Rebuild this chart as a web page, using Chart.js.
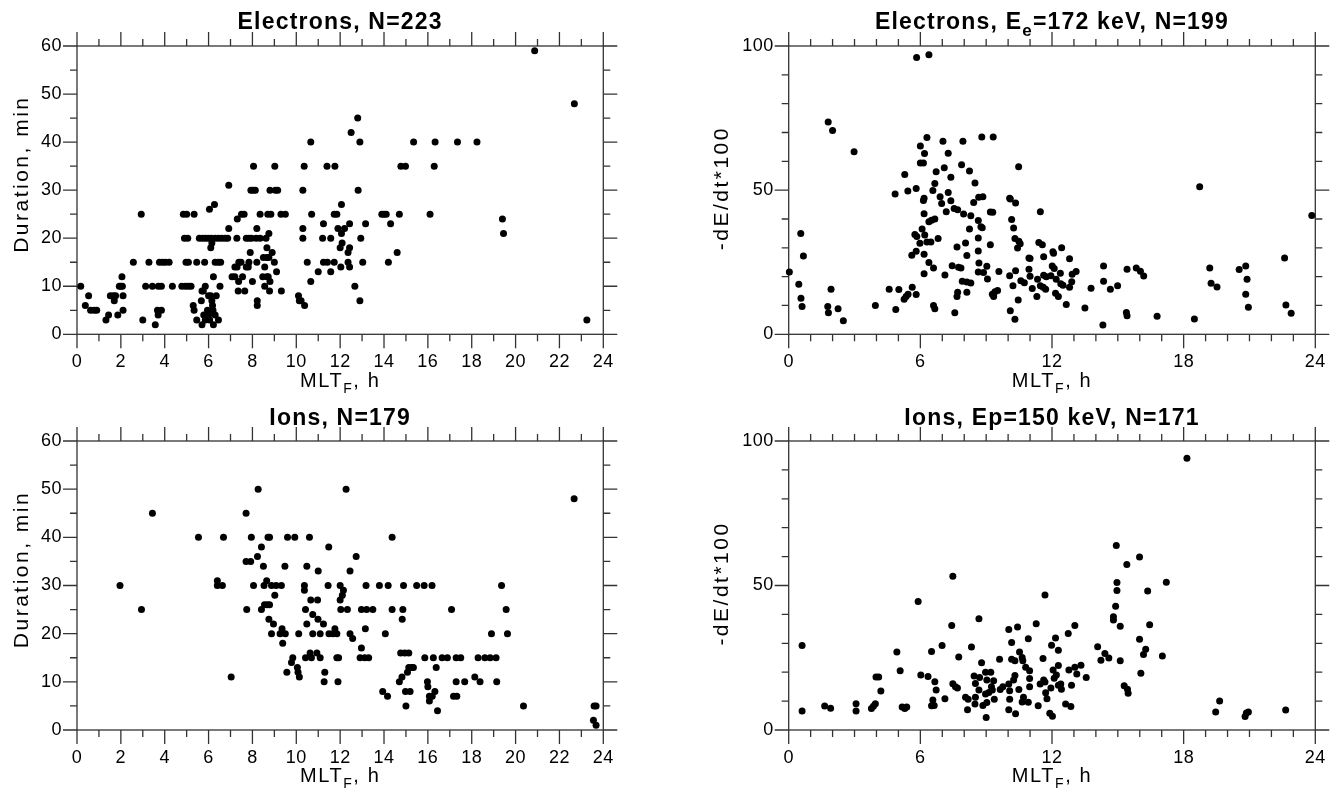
<!DOCTYPE html>
<html>
<head>
<meta charset="utf-8">
<script src="https://cdn.jsdelivr.net/npm/chart.js@4.4.1/dist/chart.umd.min.js"></script>
<style>
  html, body { margin: 0; padding: 0; background: #fff; }
  #wrap { position: relative; width: 1338px; height: 790px; }
  canvas { position: absolute; }
</style>
</head>
<body>
<div id="wrap">
  <canvas id="eDur" width="669" height="395" style="left:0;top:0"></canvas>
  <canvas id="eRate" width="669" height="395" style="left:669px;top:0"></canvas>
  <canvas id="iDur" width="669" height="395" style="left:0;top:395px"></canvas>
  <canvas id="iRate" width="669" height="395" style="left:669px;top:395px"></canvas>
</div>
<script>
// ---- data ----
// electrons: duration (min) vs MLT_F (h)
const eDurMlt = [0.17,0.38,0.53,0.62,0.78,0.9,1.32,1.44,1.52,1.66,1.76,1.7,1.86,1.93,2.0,2.07,2.1,2.05,2.1,
  2.57,2.93,3.0,3.13,3.28,3.44,3.57,3.67,3.7,3.71,3.85,3.76,3.9,4.03,4.2,3.85,4.35,
  4.78,4.94,5.08,5.2,4.85,5.0,5.34,4.9,5.05,4.97,5.08,5.3,5.34,5.46,5.46,
  5.58,5.72,5.85,5.98,6.12,6.3,6.45,6.6,6.75,6.87,
  5.67,5.7,5.78,5.85,5.82,5.7,5.76,5.85,5.95,6.0,6.05,6.0,6.04,6.1,6.15,6.1,6.15,6.18,6.2,6.22,6.22,6.27,6.3,6.43,6.55,6.3,6.35,6.45,6.52,
  6.92,6.92,7.29,7.31,7.07,7.2,7.2,7.3,7.38,7.48,7.37,7.35,7.5,7.62,7.55,7.65,7.72,7.81,7.72,7.84,7.96,7.84,7.9,7.93,8.03,8.13,
  8.0,8.17,8.35,8.2,8.2,8.22,8.22,8.35,8.7,8.84,8.47,8.56,8.62,8.75,8.5,8.66,8.75,8.66,8.56,8.66,8.72,8.8,8.8,9.05,9.15,8.9,8.78,9.0,9.1,9.32,9.3,9.5,
  10.1,10.14,10.22,10.38,10.3,10.3,10.3,10.5,10.66,10.7,11.0,11.2,11.24,11.24,11.42,11.73,11.57,11.57,11.73,11.85,
  12.82,12.06,13.9,14.0,14.1,14.7,16.1,19.4,19.45,12.43,13.16,14.3,11.9,12.2,12.06,12.94,12.09,12.0,12.43,12.36,14.6,12.36,13.03,14.2,12.03,12.43,12.67,12.9,23.25,
  20.87,22.68,12.8,12.5,10.66,12.9,15.35,16.33,17.35,18.24,10.36,11.4,11.76,14.77,14.98,16.29,8.05,9.02];
const eDurMin = [10,6,8,5,5,5,3,4,8,8,8,7,4,10,10,10,8,12,5,
  15,25,3,10,15,10,2,5,4,10,10,15,15,15,15,5,10,
  10,10,10,10,25,25,25,20,20,15,15,6,5,15,3,
  20,20,20,20,20,20,20,20,20,20,
  7,2,4,3,15,9,9,10,5,4,3,8,26,18,19,8,7,6,5,12,2,27,15,15,15,4,8,3,10,
  31,22,20,24,12,12,14,14,15,15,11,9,25,25,12,9,14,14,20,20,20,15,17,30,30,30,
  11,20,20,22,15,6,7,25,25,25,12,14,20,21,16,16,16,18,10,12,12,11,30,30,30,17,9,15,13,9,25,25,
  8,7,7,6,22,20,30,15,11,25,13,20,23,15,15,15,20,13,25,25,
  30,27,25,25,25,25,25,24,21,23,23,23,22,22,21,20,19,18,18,17,17,15,15,15,14,14,10,7,3,
  59,48,45,42,40,40,40,40,40,40,35,35,35,35,35,35,35,35];

// electrons: -dE/dt*100 vs MLT_F (h)
const eRateMlt = [5.83,6.39,1.8,2.0,2.98,6.3,6.0,7.03,7.94,8.8,9.32,6.19,7.27,6.0,6.14,7.88,10.48,5.29,6.72,7.09,
  8.24,7.39,6.66,8.49,4.85,5.43,5.81,6.57,7.27,6.9,6.17,8.66,8.85,10.07,
  0.03,0.55,0.67,0.46,0.56,0.61,1.78,1.81,1.93,2.25,2.49,3.95,4.58,4.88,5.02,5.26,5.35,5.44,5.63,5.81,
  6.14,7.39,6.97,7.18,7.54,7.7,7.97,8.3,8.43,9.19,9.3,6.17,6.39,6.51,6.66,6.08,8.64,8.76,8.82,8.24,
  5.75,5.84,6.2,5.98,6.3,6.48,6.81,8.64,9.19,8.06,6.17,5.81,5.61,7.67,8.12,8.64,6.39,6.6,6.17,7.12,
  7.45,7.74,7.85,8.67,9.03,8.64,8.88,9.06,9.58,7.91,8.12,8.3,7.7,7.67,8.12,9.28,9.4,9.52,9.34,6.6,
  6.66,7.57,10.07,10.1,10.34,10.16,10.25,10.31,10.49,10.55,10.43,10.34,10.22,10.46,10.1,10.31,10.58,10.74,10.95,10.95,
  11.47,11.4,11.56,11.0,11.62,12.04,12.07,12.44,12.8,12.01,12.1,11.0,11.34,11.62,11.74,11.95,12.19,12.38,12.92,13.1,
  12.9,11.1,11.47,11.6,11.71,12.4,12.5,12.8,11.31,12.16,12.29,12.65,13.5,13.78,14.35,14.35,14.66,14.99,14.32,15.42,
  15.39,15.42,15.84,16.03,16.18,16.79,18.49,18.73,19.19,19.25,19.52,20.53,20.83,20.89,20.83,20.95,22.6,22.66,22.9,23.84];
const eRateVal = [96,97,73.6,70.7,63.3,68.3,65.3,67,67,68.4,68.4,62.7,62.8,59.4,59.4,58.8,58.1,55.4,56.4,57.8,
  56.6,54.5,52.3,52.5,48.7,49.7,50.6,49.9,49.2,47.7,47.2,47.5,47.7,47.2,
  21.6,35,27.2,17.4,12.5,9.6,9.6,7.5,15.6,8.9,4.7,10,15.6,8.6,15.5,12.2,13.1,13.9,16.3,13.8,
  46.4,46.3,45.4,42.5,43.6,43.2,41.7,41.1,45.7,42.4,42.3,41.8,39,39.6,40,36.5,39.5,37.3,37,36.5,
  34.6,33.9,34.4,31.6,32,32,33.2,33.4,31.1,31.7,27.8,28.8,27.4,30.3,27.3,28.9,24.9,23,21,20.6,
  23.8,23.3,23,24.7,23.6,21.6,21.4,19.2,21.8,18.4,18.1,17.8,14.6,13.1,14.6,13.9,14.8,15.2,13.1,10,
  8.9,7.5,20.3,46.9,45.5,39.8,36.9,33.2,32.3,31.4,29.9,22,16.8,11.9,8.2,5.2,18.6,17.9,22.6,26.5,
  42.5,31.8,31.1,26.3,26.9,28.6,28.1,30,26.2,23.7,22.8,20.1,19.1,20.5,20,20.3,19.1,21.2,20.8,21.8,
  18.2,15.9,16.8,16.3,15.6,17.5,17,16.3,13.1,14.2,13.1,10.3,9.1,16,23.7,18.4,15.6,16.8,3.2,22.6,
  7.6,6.4,23,21.9,20.2,6.3,5.3,51.2,23,17.7,16.4,22.5,23.7,19.1,13.9,9.4,26.5,10.2,7.3,41.2];

// ions: duration (min) vs MLT_F (h)
const iDurMlt = [1.96,2.94,3.44,5.54,6.68,6.4,6.4,6.63,7.03,7.71,8.26,7.95,8.71,8.78,9.6,9.93,10.6,8.41,8.23,7.71,
  7.92,8.5,9.48,10.48,11.0,11.48,8.05,8.53,8.87,9.08,9.32,8.65,9.02,10.37,10.37,11.45,12.0,7.74,8.41,8.55,
  8.67,8.78,10.66,10.97,10.42,12.0,12.03,8.75,8.96,8.87,9.26,9.5,9.35,9.38,10.11,10.48,10.75,10.99,11.24,10.75,
  11.09,11.49,11.67,11.76,11.85,9.84,9.78,9.57,10.05,10.08,10.14,10.42,10.63,10.69,10.94,11.09,11.3,11.27,11.85,11.9,
  12.27,12.73,12.45,14.37,22.67,12.15,12.1,13.18,13.79,14.19,14.89,15.49,15.83,16.19,19.36,12.33,12.97,13.21,13.49,14.37,
  14.86,14.83,17.08,19.57,12.45,12.57,13.15,14.06,18.9,19.63,12.97,11.93,12.91,13.12,13.3,14.76,14.95,15.13,15.86,16.25,
  16.65,16.89,17.29,17.5,18.29,18.6,18.84,19.11,16.38,15.13,15.25,15.34,15.07,14.82,14.7,13.94,14.16,14.98,15.19,15.0,
  15.98,16.0,16.32,16.2,16.07,16.07,16.44,17.29,17.68,17.17,17.32,18.14,18.38,19.14,20.36,23.58,23.67,23.55,23.67];
const iDurMin = [30,25,45,40,40,31,30,30,11,45,50,40,40,40,40,40,40,38,36,35,
  35,34,34,34,33,38,30,30,30,30,30,31,28,30,29,30,30,25,25,26,
  26,26,27,27,25,27,25,23,22,20,20,20,21,18,20,22,24,23,22,20,
  20,20,20,21,20,15,14,12,13,12,11,15,16,15,16,15,12,10,15,10,
  50,36,33,40,48,29,28,30,30,30,30,30,30,30,30,25,25,25,25,25,
  25,23,25,25,20,19,21,20,20,20,17,15,15,15,15,16,16,16,15,15,
  15,15,15,15,15,15,15,15,13,13,13,13,12,11,10,8,7,8,8,5,
  10,9,8,7,7,6,4,10,10,7,7,11,10,10,5,5,5,2,1];

// ions: -dE/dt*100 vs MLT_F (h)
const iRateMlt = [0.61,0.61,1.64,1.91,3.07,3.07,3.77,3.86,3.95,3.98,4.1,4.2,4.93,5.08,5.17,5.29,5.38,5.9,6.02,6.35,
  6.51,6.66,6.72,6.57,6.51,6.63,6.99,7.12,7.48,7.43,7.48,7.6,7.69,7.75,8.06,8.18,8.15,8.33,8.45,8.51,
  8.67,8.51,8.49,8.7,8.79,8.67,8.97,9.21,9.03,8.97,9.03,9.0,8.85,9.12,9.28,9.34,9.37,9.24,9.64,9.76,
  9.61,10.03,10.43,10.16,10.16,10.31,10.52,10.64,10.67,10.8,10.98,10.31,10.25,10.03,10.07,10.07,10.03,10.34,10.49,10.7,
  10.64,10.92,10.92,11.28,10.98,10.98,11.37,11.59,11.68,11.62,11.68,11.71,11.77,11.98,12.29,12.16,12.05,12.2,12.1,12.29,
  11.95,11.9,12.02,12.29,
  18.15,14.93,15.99,15.41,14.96,14.96,17.21,16.36,14.9,14.8,14.8,15.11,16.45,13.04,12.74,14.08,14.41,14.59,14.23,15.11,
  15.99,16.27,16.17,17.03,16.05,15.29,15.44,15.47,13.32,13.04,13.13,12.77,13.56,11.46,12.4,12.43,12.89,12.62,12.86,19.46,
  19.64,20.8,20.86,20.95,22.65];
const iRateVal = [29.2,6.6,8.3,7.5,9.1,6.6,7.4,8.2,9.1,18.3,18.3,13.5,27,20.5,8,7.4,8,44.5,19,18.5,
  27.2,16.7,13.8,10.4,8.4,8.5,29.2,10.8,53.2,36.2,16,15,14.5,25.3,11.3,10.6,7,28.7,18.7,16.1,
  38.5,11.3,9,18.2,23.3,13.8,20,20,17.3,12.5,9.5,4.3,8.5,13,13.8,17,10.6,15,14,15,
  24.5,34.8,35.6,30.3,24.5,24,27,25.1,24,21.7,20.5,18.9,17.3,15.9,13.6,10.6,7,5.6,14,11.3,
  9.7,9.6,31.6,36.8,17.8,15,8.4,24.7,46.7,17.3,16.6,12.9,10.8,29.3,27.6,31.8,20.8,19,17.9,22.3,
  14.5,5.8,4.8,15.5,
  94,63.8,59.9,57.3,51,48.3,51.1,48.1,42.8,39.2,38.1,35.9,36.4,36.2,33.4,28.8,26.5,24.9,24.1,24,
  31.4,27.9,26.1,25.6,19.6,15.3,14.1,12.7,22.4,21.7,19.4,20.8,18.2,15.9,15.9,14.1,15.5,9,8.1,6.2,
  10,4.7,5.9,6.2,6.9];

// tick labels
const mltLabelsLeft = [0, 2, 4, 6, 8, 10, 12, 14, 16, 18, 20, 22, 24];
const mltLabelsRight = [0, 6, 12, 18, 24];
const durLabels = [0, 10, 20, 30, 40, 50, 60];
const rateLabels = [0, 50, 100];

const FONT = "'Liberation Sans', Arial, Helvetica, sans-serif";

// text with optional subscript pieces, centered on cx
function drawRich(ctx, segs, cx, y, size, bold, spacing) {
  ctx.save();
  ctx.letterSpacing = spacing + 'px';
  ctx.textAlign = 'left';
  ctx.textBaseline = 'alphabetic';
  ctx.fillStyle = '#000';
  let total = 0;
  const parts = segs.map(s => {
    const sz = s.sub ? Math.round(size * 0.72) : size;
    const font = (bold ? 'bold ' : '') + sz + 'px ' + FONT;
    ctx.font = font;
    const w = ctx.measureText(s.t).width;
    total += w;
    return { t: s.t, font, w, dy: s.sub ? size * 0.3 : 0 };
  });
  let x = cx - total / 2;
  parts.forEach(p => {
    ctx.font = p.font;
    ctx.fillText(p.t, x, y + p.dy);
    x += p.w;
  });
  ctx.restore();
}

// frame with outward ticks on all four sides + titles
function framePlugin(cfg) {
  return {
    id: 'frame',
    beforeDraw(chart) {
      chart.ctx.letterSpacing = '0.5px';
    },
    beforeDatasetsDraw(chart) {
      const ctx = chart.ctx, a = chart.chartArea;
      const xs = chart.scales.x, ys = chart.scales.y;
      ctx.save();
      ctx.strokeStyle = '#333';
      ctx.lineWidth = 1.3;
      ctx.strokeRect(a.left, a.top, a.right - a.left, a.bottom - a.top);
      ctx.beginPath();
      xs.ticks.forEach(t => {
        const p = xs.getPixelForValue(t.value);
        const len = t.value % cfg.xMajor === 0 ? 14 : 7;
        ctx.moveTo(p, a.bottom); ctx.lineTo(p, a.bottom + len);
        ctx.moveTo(p, a.top); ctx.lineTo(p, a.top - len);
      });
      ys.ticks.forEach(t => {
        const p = ys.getPixelForValue(t.value);
        const len = t.value % cfg.yMajor === 0 ? 14 : 7;
        ctx.moveTo(a.left, p); ctx.lineTo(a.left - len, p);
        ctx.moveTo(a.right, p); ctx.lineTo(a.right + len, p);
      });
      ctx.stroke();
      ctx.restore();
    },
    afterDraw(chart) {
      const ctx = chart.ctx, a = chart.chartArea;
      const cx = (a.left + a.right) / 2;
      drawRich(ctx, cfg.title, cx, cfg.titleY, 23, true, 1.2);
      drawRich(ctx, [{ t: 'MLT' }, { t: 'F', sub: true }, { t: ', h' }], cx, 387, 20, false, 1.6);
      ctx.save();
      ctx.translate(cfg.yTitleX + 7.5, (a.top + a.bottom) / 2 + cfg.yTitleShift);
      ctx.rotate(-Math.PI / 2);
      drawRich(ctx, [{ t: cfg.yTitle }], 0, 0, 21, false, 2.5);
      ctx.restore();
      ctx.letterSpacing = '0px';
    }
  };
}

function makePanel(id, xsData, ysData, cfg) {
  const points = xsData.map((x, i) => ({ x: x, y: ysData[i] }));
  new Chart(document.getElementById(id), {
    type: 'scatter',
    data: {
      datasets: [{
        data: points,
        backgroundColor: '#000',
        borderWidth: 0,
        pointRadius: 3.5,
        pointHoverRadius: 3.5,
        clip: false
      }]
    },
    options: {
      responsive: false,
      animation: false,
      devicePixelRatio: 1,
      events: [],
      layout: { autoPadding: false, padding: { left: 0, top: 46, right: cfg.padRight, bottom: 0 } },
      plugins: { legend: { display: false }, tooltip: { enabled: false } },
      scales: {
        x: {
          type: 'linear', min: 0, max: 24,
          afterFit: s => { s.height = cfg.xHeight; },
          grid: { display: false, drawTicks: true, tickLength: 14 },
          border: { display: false },
          ticks: {
            stepSize: 1, autoSkip: false, maxRotation: 0, padding: 3,
            color: '#000', font: { family: FONT, size: 18 },
            callback: v => (cfg.xLabels.includes(v) ? String(v) : '')
          }
        },
        y: {
          type: 'linear', min: 0, max: cfg.yMax,
          afterFit: s => { s.width = cfg.yWidth; },
          grid: { display: false, drawTicks: true, tickLength: 14 },
          border: { display: false },
          ticks: {
            stepSize: cfg.yStep, autoSkip: false, padding: 1,
            color: '#000', font: { family: FONT, size: 18 },
            callback: v => (cfg.yLabels.includes(v) ? String(v) : '')
          }
        }
      }
    },
    plugins: [framePlugin(cfg)]
  });
}

makePanel('eDur', eDurMlt, eDurMin, {
  title: [{ t: 'Electrons, N=223' }], titleY: 29,
  yTitle: 'Duration, min', yTitleX: 20, yTitleShift: -16,
  xLabels: mltLabelsLeft, yLabels: durLabels, xMajor: 2, yMajor: 10,
  yMax: 60, yStep: 5, yWidth: 77, padRight: 65.7, xHeight: 60.7
});
makePanel('eRate', eRateMlt, eRateVal, {
  title: [{ t: 'Electrons, E' }, { t: 'e', sub: true }, { t: '=172 keV, N=199' }], titleY: 29,
  yTitle: '-dE/dt*100', yTitleX: 51, yTitleShift: -2,
  xLabels: mltLabelsRight, yLabels: rateLabels, xMajor: 6, yMajor: 50,
  yMax: 100, yStep: 10, yWidth: 119.7, padRight: 22.7, xHeight: 60.7
});
makePanel('iDur', iDurMlt, iDurMin, {
  title: [{ t: 'Ions, N=179' }], titleY: 30,
  yTitle: 'Duration, min', yTitleX: 20, yTitleShift: -16,
  xLabels: mltLabelsLeft, yLabels: durLabels, xMajor: 2, yMajor: 10,
  yMax: 60, yStep: 5, yWidth: 77, padRight: 65.7, xHeight: 60
});
makePanel('iRate', iRateMlt, iRateVal, {
  title: [{ t: 'Ions, Ep=150 keV, N=171' }], titleY: 30,
  yTitle: '-dE/dt*100', yTitleX: 51, yTitleShift: -2,
  xLabels: mltLabelsRight, yLabels: rateLabels, xMajor: 6, yMajor: 50,
  yMax: 100, yStep: 10, yWidth: 119.7, padRight: 22.7, xHeight: 60
});
</script>
</body>
</html>
